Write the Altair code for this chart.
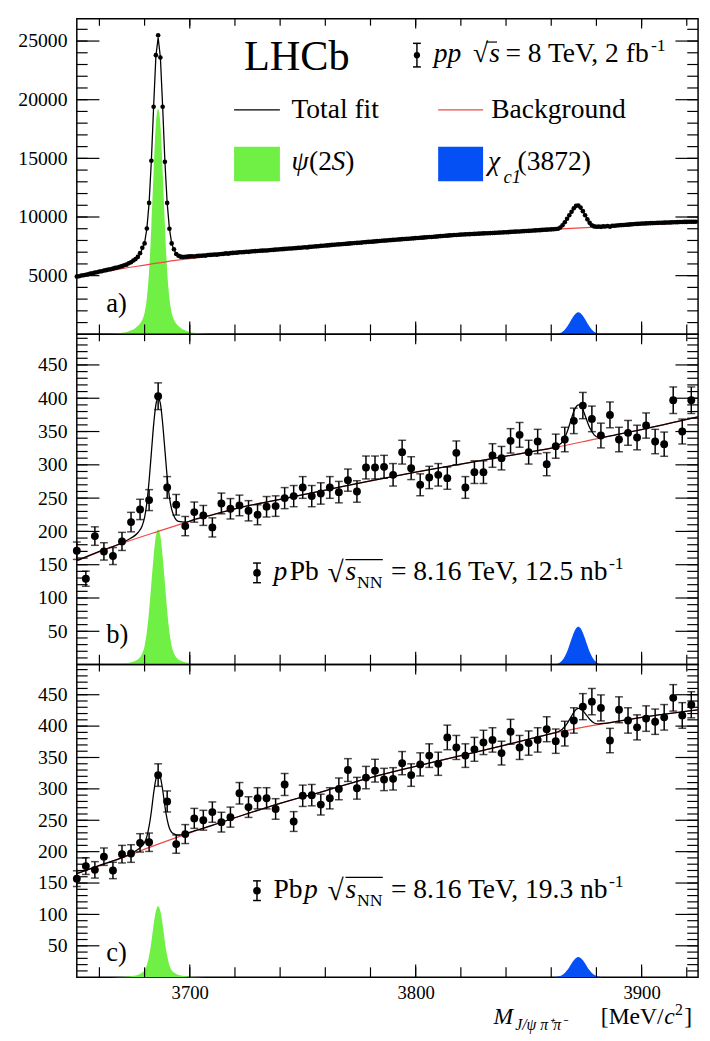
import altair as alt
import pandas as pd
import numpy as np

FONT = "Liberation Serif, Times New Roman, serif"
GREEN = "#70ef45"
BLUE = "#0550f5"
RED = "#f04848"
W = 632
HA, HB, HC = 321, 336, 318
X_DOM = [3650, 3925]

# ---------------- panel a: pp, 1 MeV bins ----------------
a_x = list(range(3650, 3925))
a_y = [
    4920, 4950, 5010, 5030, 5080, 5110, 5170, 5190, 5260, 5290,
    5350, 5370, 5440, 5470, 5530, 5550, 5600, 5660, 5690, 5760,
    5810, 5890, 5940, 6060, 6140, 6290, 6410, 6600, 6920, 7380,
    7750, 9020, 11200, 14800, 19400, 23800, 25500, 23600, 19400, 14700,
    11200, 9000, 7750, 7250, 6850, 6700, 6620, 6590, 6610, 6620,
    6640, 6650, 6630, 6680, 6690, 6700, 6720, 6710, 6760, 6770,
    6780, 6800, 6790, 6830, 6850, 6860, 6900, 6880, 6920, 6940,
    6950, 6960, 6990, 7000, 7010, 7040, 7030, 7060, 7080, 7090,
    7100, 7120, 7130, 7150, 7140, 7170, 7190, 7200, 7220, 7230,
    7250, 7260, 7280, 7290, 7310, 7320, 7340, 7350, 7370, 7380,
    7400, 7420, 7410, 7450, 7470, 7480, 7500, 7510, 7540, 7550,
    7570, 7580, 7600, 7620, 7630, 7650, 7670, 7680, 7700, 7710,
    7730, 7750, 7760, 7780, 7790, 7810, 7820, 7850, 7860, 7880,
    7890, 7900, 7920, 7940, 7950, 7970, 7990, 8000, 8020, 8030,
    8050, 8060, 8080, 8090, 8110, 8120, 8140, 8150, 8170, 8180,
    8200, 8210, 8230, 8240, 8260, 8270, 8290, 8300, 8320, 8330,
    8350, 8370, 8380, 8400, 8410, 8430, 8440, 8460, 8470, 8490,
    8500, 8510, 8520, 8530, 8540, 8550, 8560, 8570, 8580, 8590,
    8600, 8610, 8620, 8630, 8640, 8650, 8660, 8670, 8680, 8690,
    8700, 8710, 8730, 8740, 8750, 8760, 8770, 8780, 8800, 8810,
    8820, 8830, 8850, 8860, 8870, 8880, 8900, 8910, 8920, 8940,
    8950, 8960, 8980, 9000, 9100, 9300, 9550, 9850, 10150, 10450,
    10750, 10950, 10980, 10800, 10500, 10150, 9800, 9500, 9300, 9200,
    9170, 9180, 9160, 9200, 9190, 9230, 9170, 9250, 9260, 9280,
    9300, 9310, 9320, 9340, 9350, 9370, 9380, 9400, 9410, 9430,
    9450, 9450, 9460, 9470, 9480, 9480, 9490, 9500, 9510, 9510,
    9520, 9530, 9530, 9540, 9550, 9550, 9560, 9570, 9570, 9580,
    9580, 9590, 9590, 9600, 9600,
]
fit_a_x = [3650, 3660, 3670, 3674, 3676, 3678, 3679, 3680, 3681, 3682, 3683, 3684,
           3685, 3686, 3687, 3688, 3689, 3690, 3691, 3692, 3693, 3694, 3696, 3700,
           3710, 3740, 3780, 3820, 3850, 3860, 3862, 3864, 3866, 3868, 3870, 3871,
           3872, 3873, 3874, 3876, 3878, 3880, 3882, 3890, 3900, 3925]
fit_a_y = [4880, 5290, 5750, 6100, 6380, 6850, 7300, 7800, 9000, 11200, 14800, 19400,
           23700, 25300, 23600, 19400, 14700, 11200, 9000, 7750, 7200, 6900, 6650, 6620,
           6780, 7250, 7880, 8500, 8820, 8950, 8980, 9100, 9500, 10100, 10700, 10930,
           10970, 10800, 10500, 9800, 9300, 9180, 9170, 9300, 9440, 9600]
bg_a_x = [3650, 3660, 3670, 3680, 3690, 3700, 3710, 3720, 3740, 3760, 3780, 3800,
          3820, 3840, 3860, 3880, 3900, 3925]
bg_a_y = [4850, 5250, 5600, 5900, 6200, 6450, 6680, 6880, 7230, 7550, 7870, 8170,
          8450, 8710, 8940, 9140, 9330, 9550]

# ---------------- panels b, c: 4 MeV bins ----------------
bc_x = list(range(3650, 3925, 4))
b_y = [171, 129, 193, 170, 163, 185, 214, 233, 247, 403,
       266, 240, 208, 229, 224, 206, 242, 234, 239, 231,
       225, 237, 238, 250, 253, 266, 253, 257, 266, 259,
       277, 260, 296, 296, 297, 285, 319, 295, 270, 281,
       285, 280, 318, 266, 289, 289, 314, 310, 336, 345,
       319, 335, 301, 328, 338, 366, 389, 369, 344, 375,
       338, 348, 341, 359, 335, 331, 397, 350, 397]
c_y = [157, 177, 171, 192, 170, 196, 197, 214, 215, 322,
       280, 212, 228, 253, 250, 263, 247, 255, 293, 271,
       285, 285, 268, 307, 248, 289, 290, 275, 285, 300,
       330, 301, 318, 329, 315, 316, 341, 322, 339, 353,
       340, 382, 366, 353, 363, 374, 378, 357, 391, 366,
       373, 378, 395, 376, 388, 409, 431, 439, 429, 377,
       426, 409, 398, 412, 407, 414, 445, 417, 434]

fit_bc_x = [3650, 3660, 3670, 3674, 3677, 3679, 3680, 3681, 3682, 3683, 3684, 3685,
            3686, 3687, 3688, 3689, 3690, 3691, 3692, 3693, 3695, 3698, 3702, 3710,
            3720, 3740, 3760, 3780, 3800, 3820, 3840, 3855, 3860, 3863, 3865, 3867,
            3869, 3870, 3871, 3872, 3873, 3874, 3875, 3877, 3879, 3881, 3884, 3890,
            3900, 3925]
fit_b_y = [156, 170, 183, 190, 198, 209, 221, 243, 276, 318, 360, 390,
           400, 392, 362, 322, 282, 251, 233, 223, 215, 214, 218, 225,
           234, 248, 262, 276, 289, 301, 313, 322, 325, 329, 335, 349,
           370, 380, 387, 390, 389, 383, 374, 356, 345, 341, 342, 346,
           353, 372]
fit_c_y = [165, 178, 190.5, 196.7, 203.5, 209.7, 214.8, 224, 240.5, 264, 293, 315.6,
           325, 318.3, 298.6, 272, 251, 237.4, 230.7, 228.3, 226.3, 228.5, 233, 242,
           254, 277, 297, 318, 336, 353, 370, 383.5, 388, 391, 395.3, 404,
           416, 422, 426.4, 428.4, 427.7, 424.7, 420.3, 411, 405, 403.6, 404.5, 408,
           414, 426]
bg_bc_x = [3650, 3670, 3686, 3700, 3720, 3740, 3760, 3780, 3800, 3820, 3840, 3860,
           3880, 3900, 3925]
bg_b_y = [156, 182, 200, 215, 234, 248, 262, 276, 289, 301, 313, 325, 339, 353, 372]
bg_c_y = [165, 190, 212, 230, 254, 277, 297, 318, 336, 353, 370, 388, 402, 414, 426]

# ---------------- signal shapes ----------------
psi_x = [3651, 3661, 3669, 3673, 3676, 3678, 3679, 3680, 3681, 3682, 3683, 3684, 3685,
         3686, 3687, 3688, 3689, 3690, 3691, 3692, 3693, 3694, 3696, 3699, 3703, 3711, 3721]
psi_a = [0, 30, 115, 270, 540, 920, 1250, 1820, 3070, 5380, 9220, 13820, 17860,
         19200, 17860, 13820, 9220, 5380, 3070, 1820, 1250, 920, 540, 270, 115, 30, 0]
psi_b = [0, 0.2, 1, 2.6, 5.7, 11, 17, 28, 49, 81, 122, 162, 193,
         203, 193, 162, 122, 81, 49, 28, 17, 11, 5.7, 2.6, 1, 0.2, 0]
psi_c = [0, 0.1, 0.5, 1.2, 2.7, 5.1, 7.3, 11, 19, 34, 56, 84, 105,
         113, 105, 84, 56, 34, 19, 11, 7.3, 5.1, 2.7, 1.2, 0.5, 0.1, 0]
chi_x = [3857, 3860, 3862, 3863, 3864, 3865, 3866, 3867, 3868, 3869, 3870, 3871, 3872,
         3873, 3874, 3875, 3876, 3877, 3878, 3879, 3880, 3881, 3882, 3884, 3887]
chi_a = [0, 4, 24, 56, 118, 225, 395, 640, 940, 1280, 1580, 1800, 1880,
         1800, 1580, 1280, 940, 640, 395, 225, 118, 56, 24, 4, 0]
chi_b = [0, 0.1, 0.7, 1.7, 3.6, 6.8, 12, 19.4, 28.5, 38.8, 47.9, 54.6, 57,
         54.6, 47.9, 38.8, 28.5, 19.4, 12, 6.8, 3.6, 1.7, 0.7, 0.1, 0]
chi_c = [0, 0.06, 0.4, 1, 2, 3.8, 6.7, 10.9, 16, 21.8, 26.9, 30.7, 32,
         30.7, 26.9, 21.8, 16, 10.9, 6.7, 3.8, 2, 1, 0.4, 0.06, 0]

# ---------------- ticks ----------------
x_minor = list(range(3660, 3925, 20))
x_major = [3700, 3800, 3900]
a_ylab = [5000, 10000, 15000, 20000, 25000]
a_ymin = list(range(1000, 27000, 1000))
bc_ylab = [50, 100, 150, 200, 250, 300, 350, 400, 450]
bc_ymin = list(range(10, 500, 10))

ONE = pd.DataFrame({"k": [0]})
xs = alt.Scale(domain=X_DOM, nice=False, zero=False)


def df(x, y):
    return pd.DataFrame({"x": x, "y": y})


def txt(s, px, py, size=28, style="normal", align="left"):
    return alt.Chart(ONE).mark_text(
        text=s, font=FONT, fontSize=size, fontStyle=style, align=align,
        baseline="alphabetic", color="black"
    ).encode(x=alt.value(px), y=alt.value(py))


def hrule(x1, x2, y, color="black", sw=1.3):
    return alt.Chart(ONE).mark_rule(color=color, strokeWidth=sw).encode(
        x=alt.value(x1), x2=alt.value(x2), y=alt.value(y))


def vrule(x, y1, y2, sw=1.5):
    return alt.Chart(ONE).mark_rule(color="black", strokeWidth=sw).encode(
        x=alt.value(x), y=alt.value(y1), y2=alt.value(y2))


def marker(px, py, err, size=60):
    return [
        vrule(px, py - err, py + err),
        hrule(px - 4, px + 4, py - err, sw=1.5),
        hrule(px - 4, px + 4, py + err, sw=1.5),
        alt.Chart(ONE).mark_circle(size=size, color="black", opacity=1).encode(
            x=alt.value(px), y=alt.value(py)),
    ]


def panel(H, ydom, pts, pt_size, show_err, fit, fit_interp, bg, psi, chi,
          ylab, ymin, ymaj, show_x_labels, extras):
    ys = alt.Scale(domain=ydom, nice=False, zero=False)
    yaxis = alt.Axis(values=ylab, format="d", ticks=False, tickSize=0, domain=False,
                     grid=False, labelFont=FONT, labelFontSize=20, labelColor="black",
                     labelPadding=10, title=None)
    if show_x_labels:
        xaxis = alt.Axis(values=x_major, format="d", ticks=False, tickSize=0, domain=False,
                         grid=False, labelFont=FONT, labelFontSize=19, labelColor="black",
                         labelPadding=7, title=None)
    else:
        xaxis = None

    def X():
        return alt.X("x:Q", scale=xs, axis=xaxis, title=None)

    def Y(f="y"):
        return alt.Y(f"{f}:Q", scale=ys, axis=yaxis, title=None)

    L = []
    L.append(alt.Chart(psi).mark_area(color=GREEN, interpolate="monotone", opacity=1)
             .encode(x=X(), y=Y()))
    L.append(alt.Chart(chi).mark_area(color=BLUE, interpolate="monotone", opacity=1)
             .encode(x=X(), y=Y()))
    L.append(alt.Chart(bg).mark_line(color=RED, strokeWidth=1.2, interpolate="monotone")
             .encode(x=X(), y=Y()))
    L.append(alt.Chart(fit).mark_line(color="black", strokeWidth=1.3, interpolate=fit_interp)
             .encode(x=X(), y=Y()))
    if show_err:
        e = pts.copy()
        e["lo"] = e["y"] - np.sqrt(e["y"])
        e["hi"] = e["y"] + np.sqrt(e["y"])
        L.append(alt.Chart(e).mark_errorbar(color="black", thickness=1.5,
                                            ticks={"size": 8, "thickness": 1.5})
                 .encode(x=X(), y=Y("lo"), y2=alt.Y2("hi:Q")))
    L.append(alt.Chart(pts).mark_circle(size=pt_size, color="black", opacity=1)
             .encode(x=X(), y=Y()))
    # inward ticks
    xm = pd.DataFrame({"x": x_minor})
    xM = pd.DataFrame({"x": x_major})
    L.append(alt.Chart(xm).mark_rule(color="black", strokeWidth=1.2)
             .encode(x=X(), y=alt.value(0), y2=alt.value(7)))
    L.append(alt.Chart(xm).mark_rule(color="black", strokeWidth=1.2)
             .encode(x=X(), y=alt.value(H), y2=alt.value(H - 10)))
    L.append(alt.Chart(xM).mark_rule(color="black", strokeWidth=1.2)
             .encode(x=X(), y=alt.value(0), y2=alt.value(10)))
    L.append(alt.Chart(xM).mark_rule(color="black", strokeWidth=1.2)
             .encode(x=X(), y=alt.value(H), y2=alt.value(H - 13)))
    ym = pd.DataFrame({"y": ymin})
    yM = pd.DataFrame({"y": ymaj})
    L.append(alt.Chart(ym).mark_rule(color="black", strokeWidth=1.2)
             .encode(y=Y(), x=alt.value(0), x2=alt.value(11)))
    L.append(alt.Chart(ym).mark_rule(color="black", strokeWidth=1.2)
             .encode(y=Y(), x=alt.value(W), x2=alt.value(W - 11)))
    L.append(alt.Chart(yM).mark_rule(color="black", strokeWidth=1.2)
             .encode(y=Y(), x=alt.value(0), x2=alt.value(23)))
    L.append(alt.Chart(yM).mark_rule(color="black", strokeWidth=1.2)
             .encode(y=Y(), x=alt.value(W), x2=alt.value(W - 23)))
    L.extend(extras)
    return alt.layer(*L).properties(width=W, height=H)


# ---------------- annotations ----------------
extras_a = [
    txt("LHCb", 170, 52, size=43),
    *marker(346, 37, 12, size=40),
    txt("pp", 363, 44.3, style="italic"),
    txt("√", 403, 44.3, size=28),
    hrule(416.5, 427.5, 23.7, sw=1.2),
    txt("s", 419.5, 44.3, style="italic"),
    txt("= 8 TeV, 2 fb", 436, 44.3),
    txt("-1", 584, 33, size=18),
    hrule(160, 206.6, 92.7, color="black", sw=1.3),
    txt("Total fit", 218.3, 101),
    hrule(367.6, 413.3, 92.7, color=RED, sw=1.3),
    txt("Background", 421.6, 101),
    alt.Chart(ONE).mark_rect(color=GREEN).encode(
        x=alt.value(160), x2=alt.value(206.6), y=alt.value(130.3), y2=alt.value(165.3)),
    txt("ψ", 218.3, 154, style="italic"),
    txt("(2", 236.3, 154),
    txt("S", 259, 154, style="italic"),
    txt(")", 273, 154),
    alt.Chart(ONE).mark_rect(color=BLUE).encode(
        x=alt.value(367.6), x2=alt.value(413.3), y=alt.value(130.3), y2=alt.value(165.3)),
    txt("χ", 418.3, 154, style="italic"),
    txt("c1", 434, 167, size=19, style="italic"),
    txt("(3872)", 448.3, 154),
    txt("a)", 30, 298, size=27),
]

extras_b = [
    *marker(183.3, 242.7, 10),
    txt("p", 200, 250.3, style="italic"),
    txt("Pb", 216.6, 250.3),
    txt("√", 255, 252, size=30),
    hrule(273.3, 311.3, 229.3, sw=1.2),
    txt("s", 273.3, 250.3, style="italic"),
    txt("NN", 285, 258, size=18),
    txt("= 8.16 TeV, 12.5 nb", 540, 250.3, align="right"),
    txt("-1", 541.3, 239, size=18),
    txt("b)", 30, 314, size=27),
]

extras_c = [
    *marker(183.3, 230, 10),
    txt("Pb", 200, 237.7),
    txt("p", 231, 237.7, style="italic"),
    txt("√", 255, 239.4, size=30),
    hrule(273.3, 311.3, 216.5, sw=1.2),
    txt("s", 273.3, 237.7, style="italic"),
    txt("NN", 285, 245.7, size=18),
    txt("= 8.16 TeV, 19.3 nb", 540, 237.7, align="right"),
    txt("-1", 541.3, 226.5, size=18),
    txt("c)", 30, 302, size=27),
    # x-axis title
    txt("M", 424, 366, size=24, style="italic"),
    txt("J/ψ π⁺π⁻", 446, 372, size=16, style="italic"),
    txt("[MeV/", 597, 366, size=24, align="right"),
    txt("c", 597.5, 366, size=24, style="italic"),
    txt("2", 608.5, 356, size=16),
    txt("]", 618, 366, size=24),
]

pa = panel(HA, [0, 26900], df(a_x, a_y), 22, False, df(fit_a_x, fit_a_y), "linear",
           df(bg_a_x, bg_a_y), df(psi_x, psi_a), df(chi_x, chi_a),
           a_ylab, a_ymin, a_ylab, False, extras_a)
pb = panel(HB, [0, 496], df(bc_x, b_y), 64, True, df(fit_bc_x, fit_b_y), "monotone",
           df(bg_bc_x, bg_b_y), df(psi_x, psi_b), df(chi_x, chi_b),
           bc_ylab, bc_ymin, bc_ylab, False, extras_b)
pc = panel(HC, [0, 498], df(bc_x, c_y), 64, True, df(fit_bc_x, fit_c_y), "monotone",
           df(bg_bc_x, bg_c_y), df(psi_x, psi_c), df(chi_x, chi_c),
           bc_ylab, bc_ymin, bc_ylab, True, extras_c)

chart = (
    alt.vconcat(pa, pb, pc, spacing=0, bounds="flush")
    .resolve_scale(x="independent", y="independent")
    .properties(padding={"left": 9, "top": 0, "right": 0, "bottom": 0})
    .configure_view(stroke="black", strokeWidth=1.5)
)

chart.save("out.html", embed_options={"renderer": "svg", "actions": False})
